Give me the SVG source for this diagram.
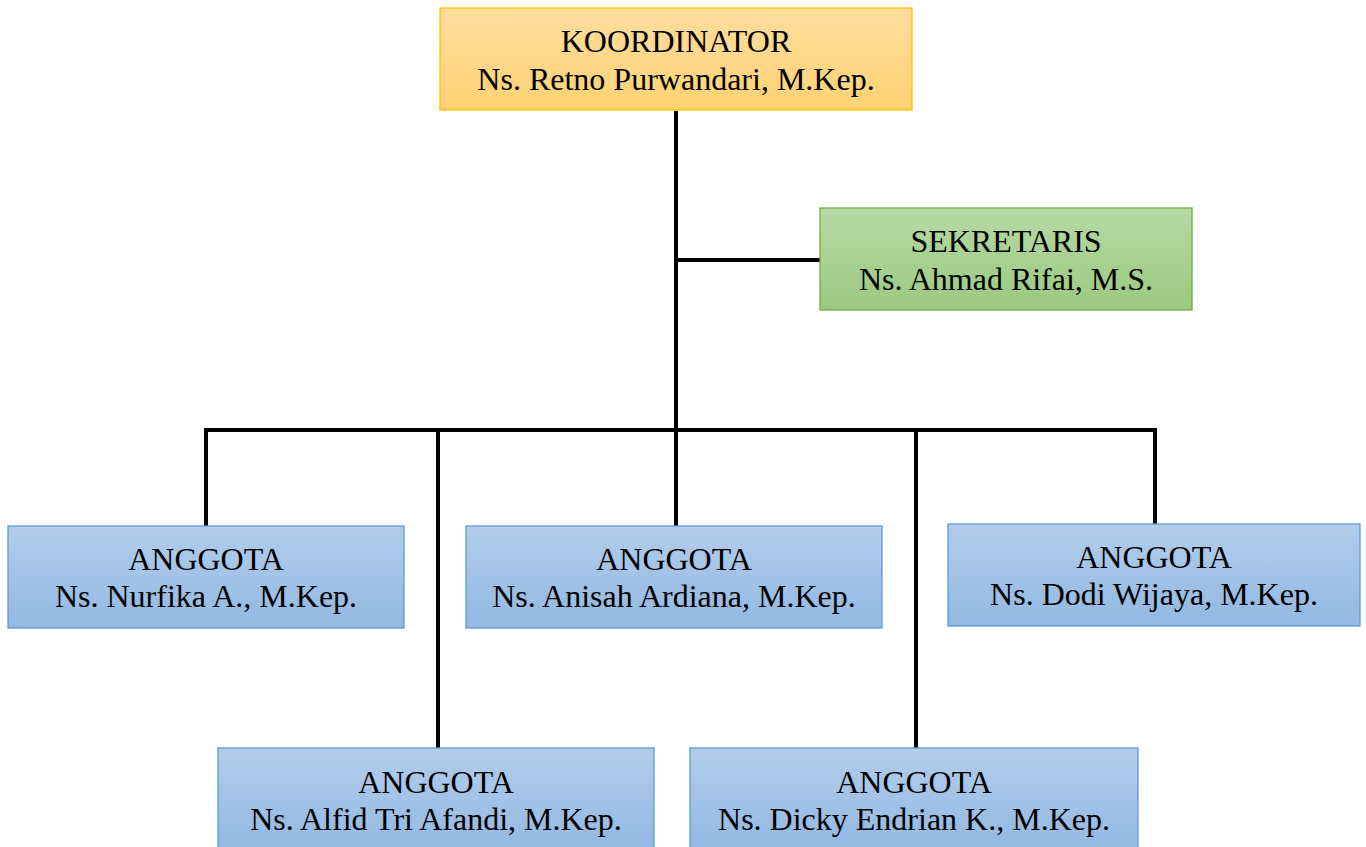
<svg xmlns="http://www.w3.org/2000/svg" width="1366" height="847" viewBox="0 0 1366 847">
<defs>
<linearGradient id="gOrange" x1="0" y1="0" x2="0" y2="1"><stop offset="0" stop-color="#ffdd9f"/><stop offset="1" stop-color="#ffd272"/></linearGradient>
<linearGradient id="gGreen" x1="0" y1="0" x2="0" y2="1"><stop offset="0" stop-color="#b7d9a6"/><stop offset="1" stop-color="#9bc97f"/></linearGradient>
<linearGradient id="gBlue" x1="0" y1="0" x2="0" y2="1"><stop offset="0" stop-color="#b2cdeb"/><stop offset="1" stop-color="#92b8e2"/></linearGradient>
</defs>
<style>
.t{font-family:"Liberation Serif","Times New Roman",serif;font-size:32px;fill:#000;text-anchor:middle}
.or{fill:url(#gOrange);stroke:#ffc000;stroke-width:1.3}
.gr{fill:url(#gGreen);stroke:#70ad47;stroke-width:1.3}
.bl{fill:url(#gBlue);stroke:#5b9bd5;stroke-width:1.3}
.c{stroke:#000;stroke-width:4;fill:none}
</style>
<rect width="1366" height="847" fill="#fff"/>
<g id="connectors">
<line class="c" x1="676" y1="111" x2="676" y2="526"/>
<line class="c" x1="676" y1="260" x2="820" y2="260"/>
<polyline class="c" points="206,526 206,430 1155,430 1155,525"/>
<line class="c" x1="438" y1="430" x2="438" y2="748"/>
<line class="c" x1="916" y1="430" x2="916" y2="748"/>
</g>
<g id="koordinator">
<rect class="or" x="440" y="8" width="472" height="102"/>
<text class="t" x="676" y="52">KOORDINATOR</text>
<text class="t" x="676" y="90">Ns. Retno Purwandari, M.Kep.</text>
</g>
<g id="sekretaris">
<rect class="gr" x="820" y="208" width="372" height="102"/>
<text class="t" x="1006" y="252">SEKRETARIS</text>
<text class="t" x="1006" y="290">Ns. Ahmad Rifai, M.S.</text>
</g>
<g id="anggota-nurfika">
<rect class="bl" x="8" y="526" width="396" height="102"/>
<text class="t" x="206" y="570">ANGGOTA</text>
<text class="t" x="206" y="607">Ns. Nurfika A., M.Kep.</text>
</g>
<g id="anggota-anisah">
<rect class="bl" x="466" y="526" width="416" height="102"/>
<text class="t" x="674" y="570">ANGGOTA</text>
<text class="t" x="674" y="607">Ns. Anisah Ardiana, M.Kep.</text>
</g>
<g id="anggota-dodi">
<rect class="bl" x="948" y="524" width="412" height="102"/>
<text class="t" x="1154" y="568">ANGGOTA</text>
<text class="t" x="1154" y="605">Ns. Dodi Wijaya, M.Kep.</text>
</g>
<g id="anggota-alfid">
<rect class="bl" x="218" y="748" width="436" height="102"/>
<text class="t" x="436" y="793">ANGGOTA</text>
<text class="t" x="436" y="830">Ns. Alfid Tri Afandi, M.Kep.</text>
</g>
<g id="anggota-dicky">
<rect class="bl" x="690" y="748" width="448" height="102"/>
<text class="t" x="914" y="793">ANGGOTA</text>
<text class="t" x="914" y="830">Ns. Dicky Endrian K., M.Kep.</text>
</g>
</svg>
